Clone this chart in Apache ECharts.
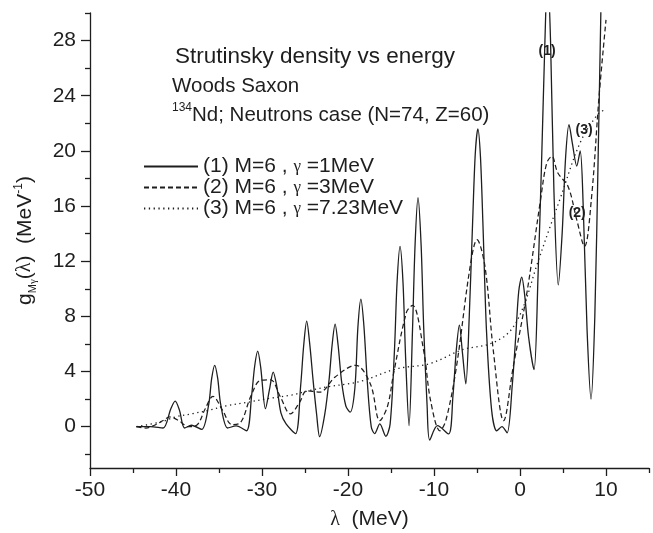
<!DOCTYPE html>
<html><head><meta charset="utf-8">
<script src="https://cdn.jsdelivr.net/npm/echarts@6/dist/echarts.min.js"></script>
<style>html,body{margin:0;padding:0;background:#fff}#c{width:653px;height:533px}</style>
</head><body><div id="c"></div>
<script>
// ---- data ----
const xMajorTicks = [-50, -40, -30, -20, -10, 0, 10];
const xMinorTicks = [-45, -35, -25, -15, -5, 5, 15];
const yMajorTicks = [0, 4, 8, 12, 16, 20, 24, 28];
const yMinorTicks = [-2, 2, 6, 10, 14, 18, 22, 26, 30];
const seriesNames = ['(1) M=6 , γ =1MeV', '(2) M=6 , γ =3MeV', '(3) M=6 , γ =7.23MeV'];

const curve1 = [
  [-44.6, 0.0], [-43, 0.0], [-41.5, -0.1],
  [-40.6, 1.3], [-40.1, 1.85], [-39.6, 1.2], [-39.0, -0.1],
  [-38.2, 0.1], [-37.0, -0.2],
  [-36.2, 1.6], [-35.85, 3.5], [-35.5, 4.45], [-35.15, 3.5], [-34.8, 1.6], [-34.0, -0.1],
  [-33.0, 0.05], [-31.8, -0.3],
  [-31.2, 2.3], [-30.85, 4.4], [-30.5, 5.47], [-30.15, 4.3], [-29.6, 1.3],
  [-29.1, 2.8], [-28.7, 3.96], [-28.3, 3.0], [-27.8, 1.0], [-27.2, 0.2], [-26.1, -0.5],
  [-25.5, 3.0], [-25.15, 5.9], [-24.8, 7.65], [-24.45, 6.0], [-24.05, 3.3], [-23.65, 0.9], [-23.3, -0.73],
  [-22.7, 0.9], [-22.2, 3.4], [-21.85, 5.9], [-21.5, 7.43], [-21.15, 5.9], [-20.75, 3.3], [-20.25, 1.5], [-19.75, 1.05],
  [-19.2, 2.8], [-18.85, 7.2], [-18.5, 9.25], [-18.15, 7.3], [-17.75, 3.2], [-17.3, 0.0], [-16.9, -0.5],
  [-16.3, 0.2], [-15.6, -0.7],
  [-15.1, 0.2], [-14.6, 5.5], [-14.3, 10.4], [-13.95, 13.07], [-13.6, 10.4], [-13.3, 5.0], [-12.9, 0.07],
  [-12.5, 7.0], [-12.2, 13.2], [-11.86, 16.6], [-11.5, 13.2], [-11.2, 7.2], [-10.8, 1.5], [-10.5, -0.97],
  [-9.6, 0.07], [-8.3, -0.53],
  [-7.8, 2.2], [-7.4, 5.6], [-7.05, 7.36], [-6.7, 5.4], [-6.3, 3.1],
  [-5.9, 8.0], [-5.5, 15.0], [-5.2, 19.8], [-4.9, 21.6], [-4.6, 19.6], [-4.3, 14.5], [-3.9, 7.0], [-3.3, 1.2], [-2.7, -0.3],
  [-2.1, 0.0], [-1.5, -0.45],
  [-0.9, 3.0], [-0.5, 6.5], [-0.15, 9.8], [0.2, 10.84], [0.55, 9.5], [1.0, 6.5], [1.63, 4.13],
  [2.1, 11], [2.5, 19], [2.9, 28], [3.2, 33], [3.55, 28], [3.95, 17], [4.45, 10.28],
  [4.9, 14], [5.3, 19.5], [5.7, 21.9], [6.1, 20.5], [6.6, 18.9], [7.0, 20.0], [7.35, 16], [7.8, 7],
  [8.26, 2.0], [8.7, 8], [9.1, 20], [9.4, 30], [9.7, 40]
];
const curve2 = [
  [-44.6, 0.0], [-43.5, -0.1], [-42.5, 0.1], [-41.5, 0.45], [-40.7, 0.7], [-39.6, 0.4], [-38.6, 0.0],
  [-37.6, 0.1], [-36.6, 1.3], [-35.7, 2.2], [-34.6, 1.2], [-33.5, 0.15], [-32.5, 0.3], [-31.3, 2.2],
  [-30.2, 3.35], [-29.0, 3.4], [-27.9, 2.2], [-26.7, 0.93], [-25.6, 1.8], [-24.8, 2.6], [-23.3, 2.5],
  [-21.5, 3.6], [-19.1, 4.45], [-17.4, 3.1], [-16.3, 0.44], [-15.4, 1.5], [-14.7, 3.85], [-13.2, 8.3],
  [-12.5, 8.8], [-11.2, 5.5], [-10.4, 1.9], [-9.3, -0.3], [-8.6, 0.5], [-7.4, 4.3], [-5.8, 11.6],
  [-5.0, 13.56], [-4.07, 11.6], [-3.1, 5.5], [-1.9, 0.43], [-0.8, 4.3], [0.8, 9.7], [2.4, 16.5],
  [3.1, 19.1], [3.7, 19.6], [4.4, 18.4], [5.6, 17.4], [6.6, 15.0], [7.5, 13.07], [8.3, 16.5],
  [9.2, 24], [10.0, 29.5]
];
const curve3 = [
  [-44.6, 0.0], [-41.7, 0.35], [-40.1, 0.7], [-38.0, 0.95], [-36.1, 1.2], [-34.2, 1.5], [-31.8, 1.75],
  [-29.6, 2.0], [-26.5, 2.3], [-24.9, 2.55], [-22.3, 2.9], [-20.0, 3.1], [-18.2, 3.35], [-14.3, 4.2],
  [-10.5, 4.57], [-6.6, 5.6], [-3.5, 6.0], [-1.2, 6.9], [0.4, 8.7], [1.9, 11.6], [3.5, 14.5],
  [4.65, 16.5], [7.0, 20.6], [9.1, 22.7], [10.0, 23.0]
];

// ---- chart ----
const FONT = 'Liberation Sans, Arial, sans-serif';
const INK = '#1e1e1e';
const chart = echarts.init(document.getElementById('c'), null, {renderer: 'canvas'});

const axisLineStyle = {color: INK, width: 1.3};
function markFor(name, coord) {
  return {
    symbol: 'circle', symbolSize: 0, silent: true,
    label: {show: true, position: 'inside', formatter: '{b}', fontFamily: FONT, fontWeight: 'bold', fontSize: 14, color: INK},
    data: [{name: name, coord: coord}]
  };
}

const option = {
  animation: false,
  backgroundColor: '#fff',
  grid: {left: 90, right: 4, top: 13, bottom: 65, containLabel: false, outerBoundsMode: 'none'},
  xAxis: [
    {
      type: 'value', min: -50, max: 15, position: 'bottom',
      axisLine: {show: true, onZero: false, lineStyle: axisLineStyle},
      axisTick: {show: true, customValues: xMajorTicks, length: 8, lineStyle: axisLineStyle},
      axisLabel: {customValues: xMajorTicks, fontSize: 21, color: INK, fontFamily: FONT, margin: 12},
      splitLine: {show: false},
      name: '{l|λ}  (MeV)', nameLocation: 'middle', nameGap: 41,
      nameTextStyle: {fontSize: 21, color: INK, fontFamily: FONT, rich: {l: {fontSize: 20, fontFamily: 'Liberation Serif', color: INK}}}
    },
    {
      type: 'value', min: -50, max: 15, position: 'bottom',
      axisLine: {show: false, onZero: false},
      axisTick: {show: true, customValues: xMinorTicks, length: 5, lineStyle: axisLineStyle},
      axisLabel: {show: false},
      splitLine: {show: false}
    }
  ],
  yAxis: [
    {
      type: 'value', min: -3, max: 30, position: 'left',
      axisLine: {show: true, onZero: false, lineStyle: axisLineStyle},
      axisTick: {show: true, customValues: yMajorTicks, length: 9, lineStyle: axisLineStyle},
      axisLabel: {customValues: yMajorTicks, fontSize: 21, color: INK, fontFamily: FONT, margin: 14},
      splitLine: {show: false},
      name: '{t|g}{sub|M}{subg|γ}{t|(}{l|λ}{t|)  (MeV}{sup|-1}{t|)}',
      nameLocation: 'middle', nameRotate: 90, nameGap: 50,
      nameTextStyle: {
        fontSize: 21, color: INK, fontFamily: FONT,
        rich: {
          t: {fontSize: 21, fontFamily: FONT, color: INK, lineHeight: 30},
          l: {fontSize: 20, fontFamily: 'Liberation Serif', color: INK, lineHeight: 30},
          sub: {fontSize: 11, fontFamily: FONT, color: INK, verticalAlign: 'bottom', lineHeight: 30, padding: [0, 0, 2, 0]},
          subg: {fontSize: 11, fontFamily: 'Liberation Serif', color: INK, verticalAlign: 'bottom', lineHeight: 30, padding: [0, 0, 1, 0]},
          sup: {fontSize: 12, fontFamily: FONT, color: INK, verticalAlign: 'top', lineHeight: 30, padding: [3, 0, 0, 0]}
        }
      }
    },
    {
      type: 'value', min: -3, max: 30, position: 'left',
      axisLine: {show: false, onZero: false},
      axisTick: {show: true, customValues: yMinorTicks, length: 5, lineStyle: axisLineStyle},
      axisLabel: {show: false},
      splitLine: {show: false}
    }
  ],
  legend: {
    orient: 'vertical', left: 143, top: 156, padding: 0, itemWidth: 54, itemHeight: 12, itemGap: 0,
    data: seriesNames,
    itemStyle: {opacity: 0},
    formatter: n => n.replace('γ', '{g|γ}'),
    textStyle: {
      fontSize: 21, lineHeight: 21, color: INK, fontFamily: FONT,
      rich: {g: {fontSize: 17, fontFamily: 'Liberation Serif', color: INK}}
    },
    selectedMode: false
  },
  graphic: [
    {type: 'text', left: 175, top: 45, silent: true,
     style: {text: 'Strutinsky density vs energy', font: '22.5px ' + FONT, fill: INK}},
    {type: 'text', left: 172, top: 76, silent: true,
     style: {text: 'Woods Saxon', font: '20.5px ' + FONT, fill: INK}},
    {type: 'text', left: 172, top: 102, silent: true,
     style: {
       text: '{s|134}{n|Nd; Neutrons case (N=74, Z=60)}',
       rich: {
         s: {font: '12px ' + FONT, fill: INK, verticalAlign: 'top', lineHeight: 26},
         n: {font: '20.5px ' + FONT, fill: INK, lineHeight: 26}
       }
     }}
  ],
  series: [
    {type: 'line', name: seriesNames[0], data: curve1, symbol: 'none', smooth: 0.3, clip: true,
     lineStyle: {color: INK, width: 1.3, type: 'solid'}, itemStyle: {color: INK},
     markPoint: markFor('(1)', [3.15, 27.2])},
    {type: 'line', name: seriesNames[1], data: curve2, symbol: 'none', smooth: 0.35, clip: true,
     lineStyle: {color: INK, width: 1.25, type: [5, 3]}, itemStyle: {color: INK},
     markPoint: markFor('(2)', [6.65, 15.45])},
    {type: 'line', name: seriesNames[2], data: curve3, symbol: 'none', smooth: 0.35, clip: true,
     lineStyle: {color: INK, width: 1.3, type: [1.3, 3.5]}, itemStyle: {color: INK},
     markPoint: markFor('(3)', [7.45, 21.5])}
  ]
};
chart.setOption(option);
</script>
</body></html>
